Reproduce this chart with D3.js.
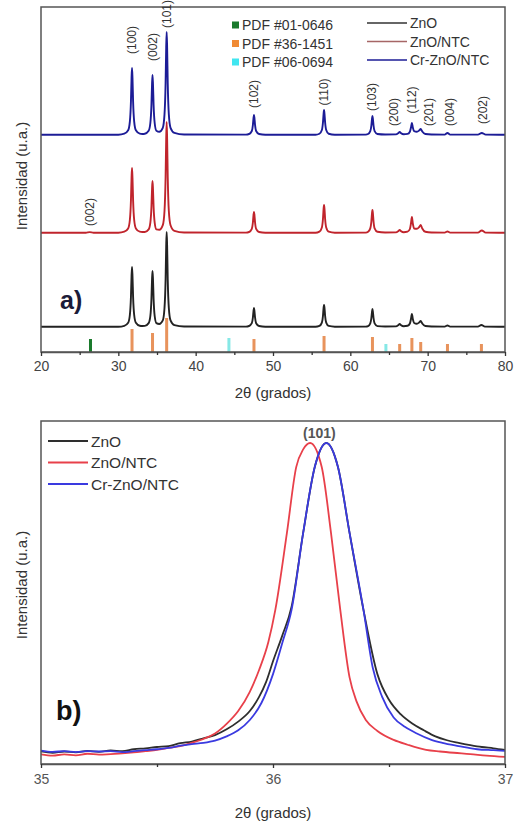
<!DOCTYPE html>
<html>
<head>
<meta charset="utf-8">
<script src="https://cdn.jsdelivr.net/npm/d3@7"></script>
<style>
  html, body { margin: 0; padding: 0; background: #fff; }
  svg text { font-family: "Liberation Sans", Arial, sans-serif; }
</style>
</head>
<body>
<div id="chart"></div>
<script>
// ---- panel a) data: 2theta, intensity (a.u.) ----
const znoA = [
  [20,0.3],[25,0.2],[30,0.3],[30.77,1.2],[31.27,4.2],[31.49,12],[31.63,30],[31.71,51],[31.77,60],[31.83,51],[31.91,30],[32.05,12],[32.27,4.2],[32.77,1.2],
  [33.1,1.0],[33.42,1.1],[33.92,3.9],[34.14,11],[34.28,28],[34.36,48],[34.42,56],[34.48,48],[34.56,28],[34.70,11],[34.92,3.9],[35.3,3.0],
  [35.75,6.6],[35.97,19],[36.11,47],[36.19,81],[36.25,95],[36.31,81],[36.39,47],[36.53,19],[36.75,6.6],[37.25,1.9],[38.5,0.5],
  [46.5,0.4],[46.9,1],[47.26,3.8],[47.40,9.5],[47.48,16],[47.54,19],[47.60,16],[47.68,9.5],[47.82,3.8],[48.2,1],[49,0.3],
  [55.5,0.3],[56.0,1.1],[56.32,4.4],[56.46,11],[56.54,19],[56.6,22],[56.66,19],[56.74,11],[56.88,4.4],[57.2,1.1],[58,0.3],
  [62,0.4],[62.3,0.9],[62.58,3.6],[62.72,9],[62.80,15],[62.86,18],[62.92,15],[63.0,9],[63.14,3.6],[63.5,0.9],[64.5,0.5],
  [65.9,0.6],[66.2,1.8],[66.38,3],[66.56,1.8],[66.9,0.8],
  [67.4,1.2],[67.7,3.5],[67.84,8],[67.96,13],[68.08,8],[68.25,4],[68.6,3.2],
  [68.9,4.5],[69.1,6],[69.3,3.5],[69.7,1],[70.5,0.5],
  [72.2,0.4],[72.56,1.5],[72.9,0.4],[76.5,0.4],[76.95,2],[77.4,0.4],[80,0.2]
];
const znoNtcA = [
  [20,0.3],[25.8,0.3],[26.3,0.9],[26.8,0.3],[30,0.3],[30.77,1.3],[31.27,4.6],[31.49,13],[31.63,32.5],[31.71,55],[31.77,65],[31.83,55],[31.91,32.5],[32.05,13],[32.27,4.6],[32.77,1.3],
  [33.1,1.0],[33.42,1.0],[33.92,3.6],[34.14,10.4],[34.28,26],[34.36,44],[34.42,52],[34.48,44],[34.56,26],[34.70,10.4],[34.92,3.6],[35.3,3.2],
  [35.75,7.8],[35.97,22],[36.11,55.5],[36.19,94],[36.25,111],[36.31,94],[36.39,55.5],[36.53,22],[36.75,7.8],[37.25,2.2],[38.5,0.5],
  [46.5,0.4],[46.9,1],[47.26,4.2],[47.40,10.5],[47.48,18],[47.54,21],[47.60,18],[47.68,10.5],[47.82,4.2],[48.2,1],[49,0.3],
  [55.5,0.3],[56.0,1.4],[56.32,5.6],[56.46,14],[56.54,24],[56.6,28],[56.66,24],[56.74,14],[56.88,5.6],[57.2,1.4],[58,0.3],
  [62,0.4],[62.3,1.2],[62.58,4.6],[62.72,11.5],[62.80,19.5],[62.86,23],[62.92,19.5],[63.0,11.5],[63.14,4.6],[63.5,1.2],[64.5,0.5],
  [65.9,0.6],[66.2,1.8],[66.38,3],[66.56,1.8],[66.9,0.8],
  [67.4,1.3],[67.7,4],[67.84,9.5],[67.96,16],[68.08,9.5],[68.25,4.5],[68.6,4.2],
  [68.9,6],[69.1,8],[69.3,4.5],[69.7,1.2],[70.5,0.5],
  [72.2,0.4],[72.56,1.5],[72.9,0.4],[76.5,0.4],[77.0,2.5],[77.5,0.4],[80,0.2]
];
const crZnoNtcA = [
  [20,0.3],[25,0.2],[30,0.3],[30.77,1.3],[31.27,4.7],[31.49,13.4],[31.63,33.5],[31.71,57],[31.77,67],[31.83,57],[31.91,33.5],[32.05,13.4],[32.27,4.7],[32.77,1.3],
  [33.1,1.0],[33.42,1.2],[33.92,4.2],[34.14,12],[34.28,30],[34.36,51],[34.42,60],[34.48,51],[34.56,30],[34.70,12],[34.92,4.2],[35.3,3.2],
  [35.75,7.2],[35.97,20.6],[36.11,51.5],[36.19,87.5],[36.25,103],[36.31,87.5],[36.39,51.5],[36.53,20.6],[36.75,7.2],[37.25,2.1],[38.5,0.5],
  [46.5,0.4],[46.9,1],[47.26,4],[47.40,10],[47.48,17],[47.54,20],[47.60,17],[47.68,10],[47.82,4],[48.2,1],[49,0.3],
  [55.5,0.3],[56.0,1.25],[56.32,5],[56.46,12.5],[56.54,21],[56.6,25],[56.66,21],[56.74,12.5],[56.88,5],[57.2,1.25],[58,0.3],
  [62,0.4],[62.3,1],[62.58,3.8],[62.72,9.5],[62.80,16],[62.86,19],[62.92,16],[63.0,9.5],[63.14,3.8],[63.5,1],[64.5,0.5],
  [65.9,0.6],[66.2,1.8],[66.38,3],[66.56,1.8],[66.9,0.8],
  [67.4,1.1],[67.7,3.3],[67.84,7.5],[67.96,12],[68.08,7.5],[68.25,3.8],[68.6,3.2],
  [68.9,4.5],[69.1,6],[69.3,3.5],[69.7,1],[70.5,0.5],
  [72.2,0.4],[72.56,2],[72.9,0.4],[76.5,0.4],[77.0,2],[77.5,0.4],[80,0.2]
];

// reference patterns (position, relative height)
const pdf010646 = [[26.4,13]];
const pdf361451 = [[31.77,23],[34.42,19],[36.25,34],[47.54,13],[56.6,16],[62.86,15],[66.38,8],[67.96,14],[69.1,10],[72.56,8],[76.95,8]];
const pdf060694 = [[44.3,14],[64.6,8]];

// peak labels (hkl, label 2theta, label height)
const hklLabels = [
  ['(100)',31.77,312],['(002)',34.42,305],['(101)',36.28,338],['(102)',47.54,258],['(110)',56.6,260],
  ['(103)',62.86,255],['(200)',65.6,240],['(112)',68.0,252],['(201)',70.2,240],['(004)',72.9,240],['(202)',77.2,242]
];
const graphiteLabel = ['(002)',26.4,140];

const xTicksA = [20,30,40,50,60,70,80];
const xMinorA = [25,35,45,55,65,75];

// ---- panel b) data ----
const znoB = [
  [35.00,3.9],[35.05,3.5],[35.10,3.9],[35.15,3.6],[35.20,4.1],[35.25,3.8],[35.30,4.2],[35.35,4.0],[35.40,4.6],[35.45,4.9],[35.50,5.3],[35.55,5.6],
  [35.60,6.5],[35.65,7.0],[35.70,8.0],[35.75,9.0],[35.80,10.8],[35.85,13.2],[35.90,16.5],[35.94,20.9],[35.97,25.5],[36.00,32],[36.04,40],[36.08,49],
  [36.13,72],[36.18,92.5],[36.23,100],[36.28,92.5],[36.33,72],[36.39,48],[36.45,28],[36.50,20],[36.55,15.5],[36.60,12.6],[36.65,10.5],[36.70,8.6],
  [36.75,7.4],[36.80,6.6],[36.85,5.9],[36.90,5.3],[36.95,4.9],[37.00,4.4]
];
const znoNtcB = [
  [35.00,3.0],[35.05,2.6],[35.10,3.0],[35.15,2.7],[35.20,3.2],[35.25,2.9],[35.30,3.1],[35.35,3.3],[35.40,3.6],[35.45,4.0],[35.50,4.4],[35.55,5.0],
  [35.60,5.6],[35.65,6.6],[35.70,7.8],[35.75,9.5],[35.80,12.5],[35.85,16.5],[35.90,22.5],[35.94,29.3],[35.98,38],[36.01,48],[36.06,72],[36.10,92.5],
  [36.13,98],[36.16,100],[36.21,92.5],[36.25,72],[36.29,48],[36.33,27],[36.36,19.5],[36.40,13.7],[36.45,10.3],[36.52,7.5],[36.58,6.0],[36.66,4.4],
  [36.72,3.9],[36.78,3.5],[36.85,3.1],[36.92,2.6],[37.00,2.2]
];
const crZnoNtcB = [
  [35.00,4.2],[35.05,3.8],[35.10,4.0],[35.15,3.7],[35.20,4.0],[35.25,3.9],[35.30,4.0],[35.35,3.7],[35.40,4.0],[35.45,4.3],[35.50,4.6],[35.55,5.0],
  [35.60,5.7],[35.65,6.2],[35.70,6.6],[35.75,7.3],[35.80,8.6],[35.85,10.5],[35.90,13.7],[35.95,19],[36.00,28],[36.04,37.7],[36.08,48],[36.13,72],
  [36.18,92.5],[36.23,100],[36.28,92.5],[36.33,72],[36.39,48],[36.43,30],[36.47,21],[36.52,14.5],[36.57,11.5],[36.62,9.5],[36.68,7.6],[36.73,6.6],
  [36.80,5.6],[36.88,4.6],[36.95,4.3],[37.00,4.1]
];
const xTicksB = [35,36,37];
const xMinorB = [35.5,36.5];

const seriesNames = ['ZnO','ZnO/NTC','Cr-ZnO/NTC'];
const pdfNames = ['PDF #01-0646','PDF #36-1451','PDF #06-0694'];

// ---- drawing ----
const width = 516, height = 822;
const svg = d3.select('#chart').append('svg')
    .attr('width', width)
    .attr('height', height);

const xA = d3.scaleLinear().domain([20, 80]).range([41, 505]);
const yA = d3.scaleLinear().domain([0, 345]).range([352, 7]);

const colorsA = ['#222222', '#c0242c', '#1c1c96'];
const offsetsA = [25, 119, 217];
const seriesA = [znoA, znoNtcA, crZnoNtcA];

const gA = svg.append('g');

// reference bars
const pdfColors = ['#1a7a2c', '#e8935c', '#86e8e6'];
[pdf010646, pdf361451, pdf060694].forEach((bars, k) => {
    gA.selectAll(`.pdf${k}`)
        .data(bars)
        .join('rect')
            .attr('class', `pdf${k}`)
            .attr('x', d => xA(d[0]) - 1.5)
            .attr('width', 3)
            .attr('y', d => yA(d[1]))
            .attr('height', d => yA(0) - yA(d[1]))
            .style('fill', pdfColors[k]);
});

seriesA.forEach((data, k) => {
    const line = d3.line()
        .x(d => xA(d[0]))
        .y(d => yA(d[1] + offsetsA[k]))
        .curve(d3.curveMonotoneX);
    gA.append('path')
        .datum(data)
        .attr('d', line)
        .style('fill', 'none')
        .style('stroke', colorsA[k])
        .style('stroke-width', 1.9);
});

// frame
gA.append('rect')
    .attr('x', 41).attr('y', 7)
    .attr('width', 464).attr('height', 345)
    .style('fill', 'none')
    .style('stroke', '#555')
    .style('stroke-width', 1.5);

// axis
const axisA = gA.append('g')
    .attr('transform', `translate(0,${yA(0)})`)
    .call(d3.axisBottom(xA).tickValues(xTicksA).tickSize(4).tickSizeOuter(0).tickPadding(5));
gA.append('g')
    .attr('transform', `translate(0,${yA(0)})`)
    .call(d3.axisBottom(xA).tickValues(xMinorA).tickSize(3).tickFormat(''))
    .call(g => g.select('.domain').remove());
axisA.select('.domain').style('stroke', '#555').style('stroke-width', 1.5);
gA.selectAll('.tick line').style('stroke', '#333').style('stroke-width', 1.3);
axisA.selectAll('.tick text')
    .style('font-size', '14px')
    .style('fill', '#444')
    .style('font-family', '"Liberation Sans", Arial, sans-serif');

gA.append('text')
    .attr('x', 273).attr('y', 398)
    .attr('text-anchor', 'middle')
    .style('font-size', '15px').style('fill', '#333')
    .text('2θ (grados)');

gA.append('text')
    .attr('transform', 'translate(27,176) rotate(-90)')
    .attr('text-anchor', 'middle')
    .style('font-size', '15px').style('fill', '#333')
    .text('Intensidad (u.a.)');

// hkl labels
gA.selectAll('.hkl')
    .data(hklLabels.concat([graphiteLabel]))
    .join('text')
        .attr('class', 'hkl')
        .attr('transform', d => `translate(${xA(d[1]) + 4},${yA(d[2])}) rotate(-90)`)
        .attr('text-anchor', 'middle')
        .style('font-size', '12px')
        .style('fill', '#333')
        .text(d => d[0]);

gA.append('text')
    .attr('x', 60).attr('y', 309)
    .style('font-size', '25px')
    .style('font-weight', 'bold')
    .style('fill', '#1b1b38')
    .text('a)');

// legends panel a
const legPdf = gA.selectAll('.legpdf')
    .data(pdfNames)
    .join('g')
        .attr('class', 'legpdf')
        .attr('transform', (d, i) => `translate(232,${25 + i * 18.5})`);
legPdf.append('rect')
    .attr('x', 0).attr('y', -3.5).attr('width', 7).attr('height', 7)
    .style('fill', (d, i) => ['#1a7a2c', '#f08a34', '#40e6f0'][i]);
legPdf.append('text')
    .attr('x', 10).attr('y', 5)
    .style('font-size', '14px').style('fill', '#333')
    .text(d => d);

const legA = gA.selectAll('.lega')
    .data(seriesNames)
    .join('g')
        .attr('class', 'lega')
        .attr('transform', (d, i) => `translate(367,${23 + i * 18.5})`);
legA.append('line')
    .attr('x1', 0).attr('x2', 40)
    .style('stroke', (d, i) => ['#333', '#a66666', '#1c1c96'][i])
    .style('stroke-width', 1.6);
legA.append('text')
    .attr('x', 43).attr('y', 5)
    .style('font-size', '14px').style('fill', '#333')
    .text(d => d);

// ---- panel b ----
const xB = d3.scaleLinear().domain([35, 37]).range([41, 505]);
const yB = d3.scaleLinear().domain([0, 100]).range([764, 443]);
const colorsB = ['#2e2e2e', '#e8404a', '#3a3ae0'];
const seriesB = [znoB, znoNtcB, crZnoNtcB];
const gB = svg.append('g');

seriesB.forEach((data, k) => {
    const line = d3.line()
        .x(d => xB(d[0]))
        .y(d => yB(d[1]))
        .curve(d3.curveMonotoneX);
    gB.append('path')
        .datum(data)
        .attr('d', line)
        .style('fill', 'none')
        .style('stroke', colorsB[k])
        .style('stroke-width', 1.8);
});

gB.append('rect')
    .attr('x', 41).attr('y', 421)
    .attr('width', 464).attr('height', 343)
    .style('fill', 'none')
    .style('stroke', '#555')
    .style('stroke-width', 1.5);

const axisB = gB.append('g')
    .attr('transform', `translate(0,${yB(0)})`)
    .call(d3.axisBottom(xB).tickValues(xTicksB).tickSize(4).tickSizeOuter(0).tickPadding(6).tickFormat(d3.format('d')));
gB.append('g')
    .attr('transform', `translate(0,${yB(0)})`)
    .call(d3.axisBottom(xB).tickValues(xMinorB).tickSize(3).tickFormat(''))
    .call(g => g.select('.domain').remove());
axisB.select('.domain').style('stroke', '#555').style('stroke-width', 1.5);
gB.selectAll('.tick line').style('stroke', '#333').style('stroke-width', 1.3);
axisB.selectAll('.tick text')
    .style('font-size', '14px')
    .style('fill', '#555')
    .style('font-family', '"Liberation Sans", Arial, sans-serif');

gB.append('text')
    .attr('x', 273).attr('y', 818)
    .attr('text-anchor', 'middle')
    .style('font-size', '15px').style('fill', '#333')
    .text('2θ (grados)');

gB.append('text')
    .attr('transform', 'translate(27,585) rotate(-90)')
    .attr('text-anchor', 'middle')
    .style('font-size', '15px').style('fill', '#333')
    .text('Intensidad (u.a.)');

gB.append('text')
    .attr('x', xB(36.2)).attr('y', 438)
    .attr('text-anchor', 'middle')
    .style('font-size', '14px').style('font-weight', 'bold').style('fill', '#555')
    .text('(101)');

gB.append('text')
    .attr('x', 56).attr('y', 720)
    .style('font-size', '27px')
    .style('font-weight', 'bold')
    .style('fill', '#111')
    .text('b)');

const legB = gB.selectAll('.legb')
    .data(seriesNames)
    .join('g')
        .attr('class', 'legb')
        .attr('transform', (d, i) => `translate(48,${441 + i * 21.5})`);
legB.append('line')
    .attr('x1', 0).attr('x2', 40)
    .style('stroke', (d, i) => colorsB[i])
    .style('stroke-width', 2);
legB.append('text')
    .attr('x', 43).attr('y', 5.5)
    .style('font-size', '15.5px').style('fill', '#333')
    .text(d => d);
</script>
</body>
</html>
